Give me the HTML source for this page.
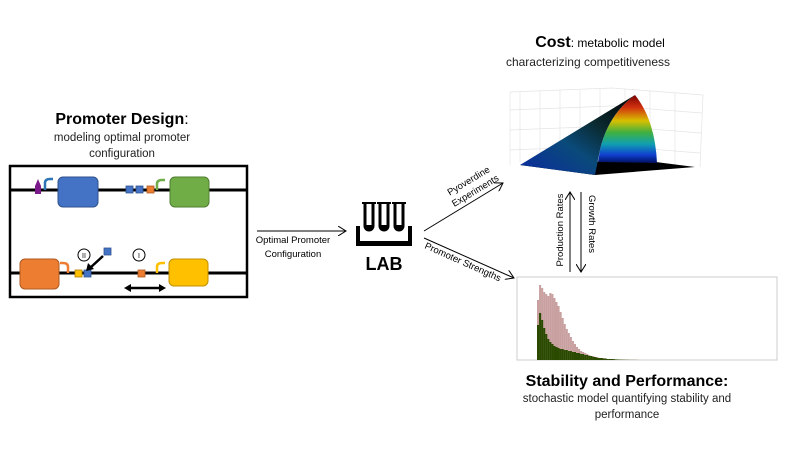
<!DOCTYPE html>
<html><head><meta charset="utf-8"><style>
body{margin:0;background:#fff}
svg{display:block;font-family:"Liberation Sans","DejaVu Sans",sans-serif}
</style></head><body>
<svg id="fig" width="800" height="452" viewBox="0 0 800 452">
<defs>
<linearGradient id="gFace" x1="0" y1="0" x2="0" y2="1">
<stop offset="0" stop-color="#7a0000"/><stop offset="0.18" stop-color="#d03010"/><stop offset="0.38" stop-color="#d8c000"/><stop offset="0.55" stop-color="#40b040"/><stop offset="0.72" stop-color="#10a0b0"/><stop offset="0.88" stop-color="#1040d0"/><stop offset="1" stop-color="#001060"/>
</linearGradient>
<linearGradient id="gSide" x1="1" y1="0" x2="0" y2="1">
<stop offset="0" stop-color="#000"/><stop offset="0.35" stop-color="#0a2a30"/><stop offset="0.6" stop-color="#0a4a7a"/><stop offset="1" stop-color="#0a2aa0"/>
</linearGradient>
<marker id="ah" markerWidth="10" markerHeight="10" refX="8" refY="5" orient="auto" markerUnits="userSpaceOnUse"><path d="M0,0 L8,5 L0,10" fill="none" stroke="#000" stroke-width="1"/></marker>
</defs>

<!-- Promoter design -->
<g>
<text x="122" y="124" text-anchor="middle" font-size="16" font-weight="bold">Promoter Design<tspan font-weight="normal">:</tspan></text>
<text x="122" y="141" text-anchor="middle" font-size="11.5" fill="#222">modeling optimal promoter</text>
<text x="122" y="157" text-anchor="middle" font-size="11.5" fill="#222">configuration</text>
<rect x="10" y="166" width="237" height="131" fill="none" stroke="#000" stroke-width="2.5"/>
<line x1="10" y1="190" x2="247" y2="190" stroke="#000" stroke-width="3"/>
<line x1="10" y1="273" x2="247" y2="273" stroke="#000" stroke-width="3"/>
<path d="M35,186 l3,-7 l3,7 z M35,186 h6 v8 h-6z" fill="#7a1a8a"/>
<path d="M45,190 v-7 q0,-4 5,-4 h3" fill="none" stroke="#2e75b6" stroke-width="2.5"/>
<rect x="58" y="177" width="40" height="30" rx="5" fill="#4472c4" stroke="#2f528f"/>
<rect x="126" y="186" width="7" height="7" fill="#4472c4" stroke="#2f528f" stroke-width=".8"/>
<rect x="136" y="186" width="7" height="7" fill="#4472c4" stroke="#2f528f" stroke-width=".8"/>
<rect x="147" y="186" width="7" height="7" fill="#ed7d31" stroke="#ae5a21" stroke-width=".8"/>
<path d="M157,190 v-6 q0,-4 5,-4 h3" fill="none" stroke="#70ad47" stroke-width="2.5"/>
<rect x="170" y="177" width="39" height="30" rx="5" fill="#70ad47" stroke="#507e32"/>
<rect x="20" y="259" width="39" height="30" rx="5" fill="#ed7d31" stroke="#ae5a21"/>
<path d="M68,273 v-6 q0,-4 -5,-4 h-3" fill="none" stroke="#ed7d31" stroke-width="2.5"/>
<rect x="75" y="270" width="7" height="7" fill="#ffc000" stroke="#b08000" stroke-width=".8"/>
<rect x="84" y="270" width="7" height="7" fill="#4472c4" stroke="#2f528f" stroke-width=".8"/>
<rect x="104" y="248" width="7" height="7" fill="#4472c4" stroke="#2f528f" stroke-width=".8"/>
<line x1="103" y1="256" x2="90" y2="268" stroke="#000" stroke-width="2.5"/>
<path d="M86,271 l2,-8 l6,6z" fill="#000"/>
<circle cx="84" cy="255" r="6" fill="#fff" stroke="#000"/>
<text x="84" y="258" text-anchor="middle" font-size="7">II</text>
<circle cx="139" cy="255" r="6" fill="#fff" stroke="#000"/>
<text x="139" y="258" text-anchor="middle" font-size="7">I</text>
<rect x="138" y="270" width="7" height="7" fill="#ed7d31" stroke="#ae5a21" stroke-width=".8"/>
<path d="M157,273 v-6 q0,-4 5,-4 h3" fill="none" stroke="#ffc000" stroke-width="2.5"/>
<rect x="169" y="259" width="39" height="27" rx="5" fill="#ffc000" stroke="#c09000"/>
<line x1="128" y1="288" x2="162" y2="288" stroke="#000" stroke-width="2.5"/>
<path d="M124,288 l7,-4 v8z M166,288 l-7,-4 v8z" fill="#000"/>
</g>

<!-- Optimal arrow -->
<line x1="257" y1="231" x2="346" y2="231" stroke="#000" stroke-width="1" marker-end="url(#ah)"/>
<text x="293" y="243" text-anchor="middle" font-size="9.5">Optimal Promoter</text>
<text x="293" y="257" text-anchor="middle" font-size="9.5">Configuration</text>

<!-- LAB -->
<g>
<path d="M356,226 v20 h56 v-20 h-4 v15 h-48 v-15z" fill="#000"/>
<g fill="none" stroke="#000" stroke-width="3">
<path d="M365,204 v22 a4,4 0 0 0 8,0 v-22"/><path d="M380,204 v22 a4,4 0 0 0 8,0 v-22"/><path d="M395,204 v22 a4,4 0 0 0 8,0 v-22"/>
</g>
<g fill="#000"><rect x="366" y="225" width="6" height="4"/><rect x="381" y="225" width="6" height="4"/><rect x="396" y="225" width="6" height="4"/></g>
<path d="M362,203 h14 M377,203 h14 M392,203 h14" stroke="#000" stroke-width="2"/>
</g>
<text x="384" y="270" text-anchor="middle" font-size="18" font-weight="bold">LAB</text>

<line x1="424" y1="231" x2="503" y2="183" stroke="#000" marker-end="url(#ah)"/>
<text transform="translate(446,205) rotate(-31)" font-size="9.5"><tspan x="8" y="-6">Pyoverdine</tspan><tspan x="6" y="6">Experiments</tspan></text>
<line x1="424" y1="238" x2="514" y2="278" stroke="#000" marker-end="url(#ah)"/>
<text transform="translate(424,248) rotate(24)" font-size="9.5">Promoter Strengths</text>

<!-- Cost -->
<text x="600" y="47" text-anchor="middle" font-size="16" font-weight="bold">Cost<tspan font-size="12" font-weight="normal">: metabolic  model</tspan></text>
<text x="588" y="66" text-anchor="middle" font-size="12" fill="#222">characterizing competitiveness</text>
<g>
<path d="M510,92 L612,88 L703,95 L700,167 M510,92 L510,165 M520,92 v70 M540,91 v70 M560,90 v72 M580,90 v73 M600,89 v74 M625,89 v74 M650,91 v72 M675,93 v72 M510,110 L612,106 L702,113 M510,130 L612,126 L701,133 M510,150 L612,146 L700,153" fill="none" stroke="#e4e4e4" stroke-width="0.7"/>
<path d="M520,165 L595,175 L695,167 L640,160 z" fill="#000"/>
<path d="M520,165 L635,95 Q608,115 600,150 L595,175 z" fill="url(#gSide)"/>
<path d="M635,95 Q608,115 600,150 L598,162 L657,163 Q655,120 635,95 z" fill="url(#gFace)"/>
</g>

<!-- Rates arrows -->
<line x1="570" y1="272" x2="570" y2="192" stroke="#000" marker-end="url(#ah)"/>
<line x1="581" y1="192" x2="581" y2="272" stroke="#000" marker-end="url(#ah)"/>
<text transform="translate(563,230) rotate(-90)" text-anchor="middle" font-size="9.5">Production Rates</text>
<text transform="translate(589,224) rotate(90)" text-anchor="middle" font-size="9.5">Growth Rates</text>

<!-- Histogram -->
<g id="hist">
<rect x="517" y="277" width="260" height="83" fill="#fff" stroke="#ccc"/>
</g>
<text x="627" y="386" text-anchor="middle" font-size="16" font-weight="bold">Stability and Performance:</text>
<text x="627" y="402" text-anchor="middle" font-size="11.5" fill="#222">stochastic model quantifying stability and</text>
<text x="627" y="418" text-anchor="middle" font-size="11.5" fill="#222">performance</text>
</svg>
<script>
const pinkCounts=[60,75,72,68,66,64,67,66,62,58,54,48,42,36,31,27,23,19,16,13,11,9,8,7,6,5,4,4,3,3,2,2,2,1,1,1,1,1,0.5,0.5,0.5,0.5,0.3,0.3,0.3,0.2,0.2,0.2,0.1,0.1,0.1];
const greenCounts=[35,47,40,32,26,21,18,16,14,13,12,11,11,10,10,9,9,8,8,7,7,6,6,5,5,4,4,3,3,2,2,2,1.5,1.5,1,1,1,0.8,0.6,0.5,0.4,0.3,0.3,0.2,0.2,0.1,0.1,0.1,0.1,0,0];
const binStart=0, binWidthUnits=1, yMax=75;
const NS='http://www.w3.org/2000/svg';
const xScale=i=>537+i*2.05;
const yScale=v=>360-v*(75/yMax);
const g=document.getElementById('hist');
function draw(arr,color,name){
  arr.forEach((v,i)=>{
    const r=document.createElementNS(NS,'rect');
    r.setAttribute('x',xScale(binStart+i*binWidthUnits));
    r.setAttribute('y',yScale(v));
    r.setAttribute('width',2.1);
    r.setAttribute('height',360-yScale(v));
    r.setAttribute('fill',color);
    
    
    g.appendChild(r);
  });
}
draw(pinkCounts,'#c9a0a0','pink-bar');
draw(greenCounts,'#2a4a00','green-bar');
</script>
</body></html>
